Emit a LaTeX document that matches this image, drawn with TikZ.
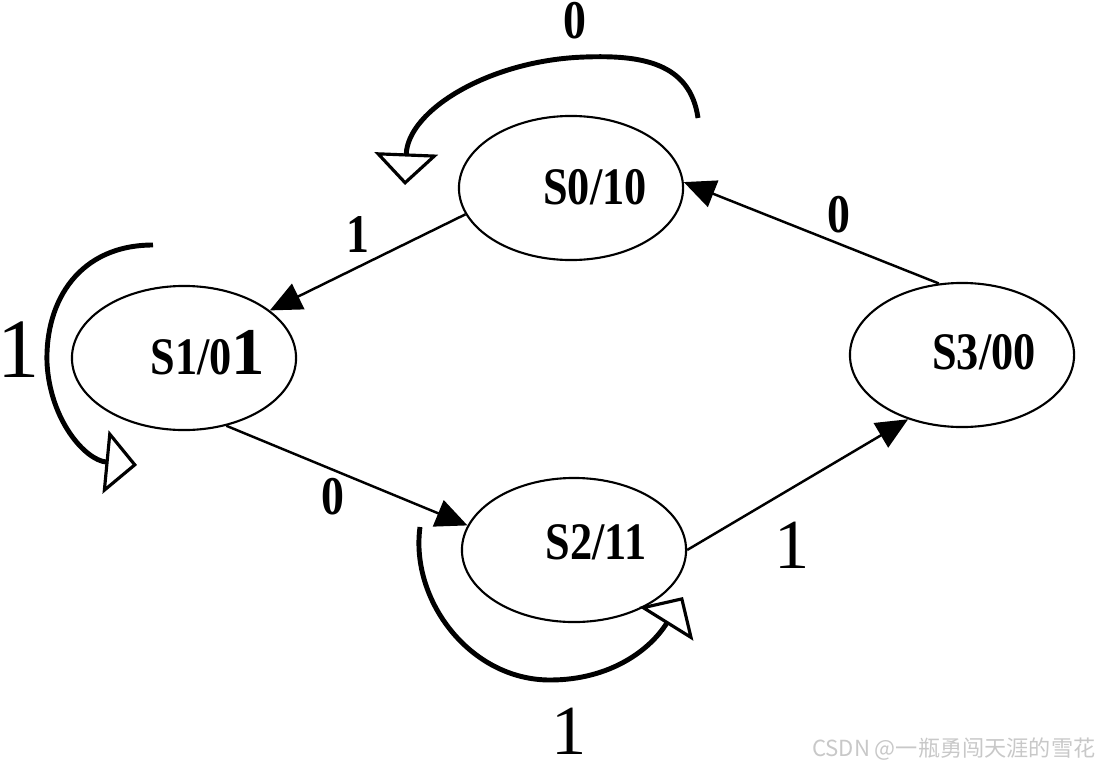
\documentclass[tikz,border=0pt]{standalone}
\usepackage{fontspec}
\setmainfont{Liberation Serif}
\newfontfamily\statefont[FakeStretch=0.84]{Liberation Serif}
\newfontfamily\cjkfont{Noto Sans CJK SC}
\usetikzlibrary{arrows.meta,shapes.geometric}
\definecolor{MarkGray}{RGB}{200,200,200}

\begin{document}
\begin{tikzpicture}[
    x=0.01cm, y=-0.01cm,
    state/.style={
      ellipse, draw, line width=0.6pt,
      minimum width=2.24cm, minimum height=1.44cm, inner sep=0pt
    },
    statetext/.style={
      inner sep=0pt, font=\statefont\bfseries\fontsize{15}{18}\selectfont
    },
    zerolabel/.style={
      inner sep=0pt, font=\statefont\bfseries\fontsize{15.5}{18}\selectfont
    },
    onelabel/.style={
      inner sep=0pt, font=\fontsize{20}{24}\selectfont
    },
    arrow/.style={-{Triangle[length=9pt, width=8pt]}, line width=0.7pt},
    selfloop/.style={
      -{Triangle[open, length=9pt, width=18pt, line width=0.9pt]},
      line width=1.4pt
    }
  ]
    \useasboundingbox (0,0) rectangle (1101,770);

    % states
    \node[state] (s0) at (571,188) {};
    \node[state] (s1) at (184,358) {};
    \node[state] (s2) at (574,550) {};
    \node[state] (s3) at (962,355) {};

    \node[statetext] (s0txt) at (595,187) {S0/10};
    \node[statetext] (s1txt) at (208,353) {S1/0{\normalfont\bfseries\fontsize{19}{20}\selectfont 1}};
    \node[statetext] (s2txt) at (596,542) {S2/11};
    \node[statetext] (s3txt) at (984,352) {S3/00};

    % transitions
    \draw[arrow] (s0.194) -- (s1.29);
    \draw[arrow] (s1.302) -- (s2.167);
    \draw[arrow] (s2.east) -- (s3.230);
    \draw[arrow] (s3.108) -- (s0.3);

    % self loops
    \coordinate (l0a) at (698,118);
    \coordinate (l0b) at (405,185);
    \draw[selfloop] (l0a) .. controls (690,62) and (640,55) .. (585,57)
      .. controls (490,60) and (408,110) .. (l0b);
    \coordinate (l1a) at (153,245);
    \coordinate (l1b) at (137,465);
    \draw[selfloop] (l1a) .. controls (80,245) and (45,300) .. (47,363)
      .. controls (50,420) and (85,460) .. (l1b);
    \coordinate (l2a) at (420,527);
    \coordinate (l2b) at (683,597);
    \draw[selfloop] (l2a) .. controls (410,600) and (470,680) .. (550,680)
      .. controls (610,680) and (650,650) .. (l2b);

    % labels
    \node[zerolabel] (lab00) at (575,21) {0};
    \node[zerolabel] (lab01) at (358,235) {1};
    \node[zerolabel] (lab30) at (839,215) {0};
    \node[zerolabel] (lab12) at (333,497) {0};
    \node[onelabel, font=\fontsize{24}{28}\selectfont] (lab11) at (19,350) {1};
    \node[onelabel] (lab23) at (792,545) {1};
    \node[onelabel] (lab22) at (569,731) {1};

    \node[anchor=east, inner sep=0pt, text=MarkGray,
      font=\cjkfont\fontsize{6.3}{8}\selectfont] (mark) at (1096,749)
      {CSDN @一瓶勇闯天涯的雪花};
  \end{tikzpicture}
\end{document}
